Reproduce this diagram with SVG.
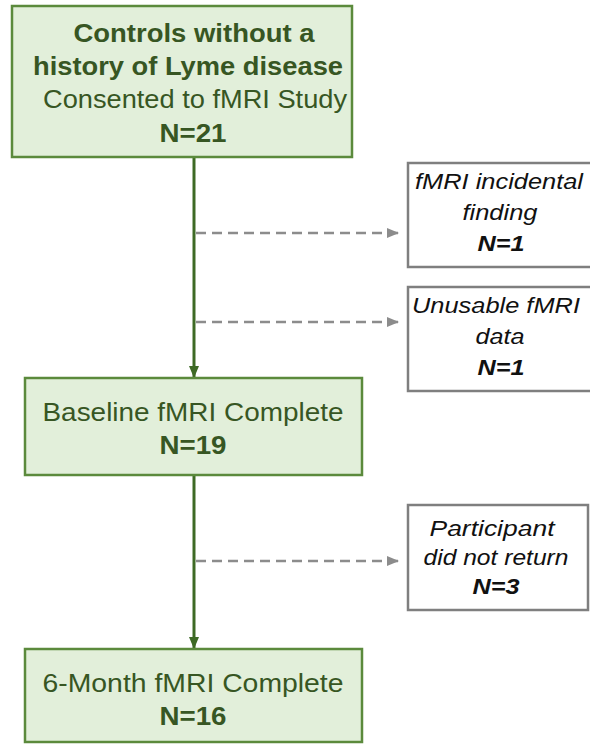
<svg xmlns="http://www.w3.org/2000/svg" width="590" height="744" viewBox="0 0 590 744">
<defs>
<marker id="ag" markerWidth="12" markerHeight="10" refX="11" refY="5" orient="auto" markerUnits="userSpaceOnUse">
<path d="M0,0 L12,5 L0,10 Z" fill="#3e6a25"/>
</marker>
<marker id="ay" markerWidth="12" markerHeight="10" refX="11" refY="5" orient="auto" markerUnits="userSpaceOnUse">
<path d="M0,0 L12,5 L0,10 Z" fill="#8c8c8c"/>
</marker>
</defs>
<style>
.gb{fill:#e2efda;stroke:#5b8a3c;stroke-width:2.5}
.wb{fill:#ffffff;stroke:#7f7f7f;stroke-width:2.5}
.gt{font-family:"Liberation Sans",Arial,sans-serif;font-size:26px;fill:#375623;text-anchor:middle}
.b{font-weight:bold}
.it{font-family:"Liberation Sans",Arial,sans-serif;font-size:22px;fill:#111111;text-anchor:middle;font-style:italic}
.main{stroke:#3e6a25;stroke-width:3;fill:none}
.dash{stroke:#8c8c8c;stroke-width:2.5;stroke-dasharray:10 6;fill:none}
</style>
<g id="connectors">
<line class="main" x1="194" y1="158" x2="194" y2="377" marker-end="url(#ag)"/>
<line class="main" x1="194" y1="476" x2="194" y2="648" marker-end="url(#ag)"/>
<line class="dash" x1="196" y1="233" x2="398" y2="233" marker-end="url(#ay)"/>
<line class="dash" x1="196" y1="322" x2="398" y2="322" marker-end="url(#ay)"/>
<line class="dash" x1="196" y1="561" x2="398" y2="561" marker-end="url(#ay)"/>
</g>
<g id="n_controls">
<rect class="gb" x="12" y="6" width="340" height="151"/>
<text class="gt b" x="194" y="42" textLength="241" lengthAdjust="spacingAndGlyphs">Controls without a</text>
<text class="gt b" x="188" y="75" textLength="310" lengthAdjust="spacingAndGlyphs">history of Lyme disease</text>
<text class="gt" x="195" y="108" textLength="304" lengthAdjust="spacingAndGlyphs">Consented to fMRI Study</text>
<text class="gt b" x="193" y="142" textLength="67" lengthAdjust="spacingAndGlyphs">N=21</text>
</g>
<g id="n_baseline">
<rect class="gb" x="25" y="378" width="337" height="97"/>
<text class="gt" x="193" y="421" textLength="301" lengthAdjust="spacingAndGlyphs">Baseline fMRI Complete</text>
<text class="gt b" x="193" y="454" textLength="67" lengthAdjust="spacingAndGlyphs">N=19</text>
</g>
<g id="n_6month">
<rect class="gb" x="25" y="649" width="337" height="93"/>
<text class="gt" x="193" y="692" textLength="301" lengthAdjust="spacingAndGlyphs">6-Month fMRI Complete</text>
<text class="gt b" x="193" y="725" textLength="67" lengthAdjust="spacingAndGlyphs">N=16</text>
</g>
<g id="n_incidental">
<rect class="wb" x="408" y="163" width="200" height="104"/>
<text class="it" x="499" y="189" textLength="168" lengthAdjust="spacingAndGlyphs">fMRI incidental</text>
<text class="it" x="500" y="220" textLength="75" lengthAdjust="spacingAndGlyphs">finding</text>
<text class="it b" x="501" y="251" textLength="47" lengthAdjust="spacingAndGlyphs">N=1</text>
</g>
<g id="n_unusable">
<rect class="wb" x="408" y="287" width="200" height="104"/>
<text class="it" x="496" y="313" textLength="168" lengthAdjust="spacingAndGlyphs">Unusable fMRI</text>
<text class="it" x="500" y="344" textLength="49" lengthAdjust="spacingAndGlyphs">data</text>
<text class="it b" x="501" y="375" textLength="47" lengthAdjust="spacingAndGlyphs">N=1</text>
</g>
<g id="n_noreturn">
<rect class="wb" x="408" y="505" width="180" height="105"/>
<text class="it" x="492" y="536" textLength="125" lengthAdjust="spacingAndGlyphs">Participant</text>
<text class="it" x="496" y="565" textLength="145" lengthAdjust="spacingAndGlyphs">did not return</text>
<text class="it b" x="496" y="594" textLength="47" lengthAdjust="spacingAndGlyphs">N=3</text>
</g>
</svg>
